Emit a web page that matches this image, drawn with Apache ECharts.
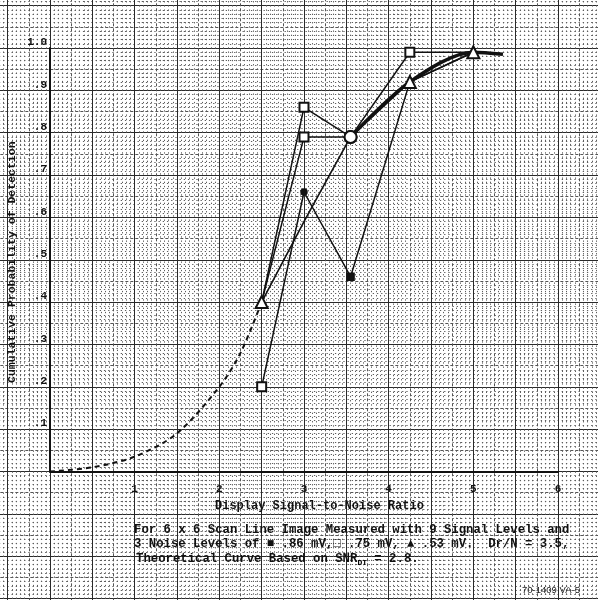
<!DOCTYPE html>
<html>
<head>
<meta charset="utf-8">
<script src="https://cdn.jsdelivr.net/npm/echarts@6/dist/echarts.min.js"></script>
<style>html,body{margin:0;padding:0;background:#fff}#c{width:598px;height:600px}</style>
</head>
<body>
<div id="c"></div>
<script>
// ---- data ----
const xTickLabels = ['1', '2', '3', '4', '5', '6'];
const yTickLabels = ['.1', '.2', '.3', '.4', '.5', '.6', '.7', '.8', '.9', '1.0'];
const snrValues = [2.5, 3.0, 3.55, 4.25, 5.0];
const noise86 = [0.20, 0.66, 0.46, 0.92, 0.99];
const noise75 = [0.40, 0.86, 0.79, 0.99, 0.99];
const noise53 = [0.40, 0.79, 0.79, 0.92, 0.99];
const theoryX = [0, 0.5, 1.0, 1.5, 2.0, 2.25, 2.5, 3.0, 3.55, 4.25, 5.0, 5.35];
const theoryY = [0, 0.01, 0.035, 0.09, 0.2, 0.28, 0.4, 0.59, 0.79, 0.92, 0.99, 0.985];
const xTitle = 'Display Signal-to-Noise Ratio';
const yTitle = 'Cumulative Probability of Detection';
const caption1 = 'For 6 x 6 Scan Line Image Measured with 9 Signal Levels and';
const caption2 = '3 Noise Levels of \u25A0 .86 mV,\u25A1 .75 mV, \u25B2 .53 mV.  Dr/N = 3.5,';
const caption3a = 'Theoretical Curve Based on SNR';
const caption3sub = 'DT';
const caption3b = ' = 2.8.';
const figId = '70-1409 VA-5';

// ---- styles (kept separate) ----
const sym86 = ['emptyRect', 'circle', 'rect', 'none', 'none'];
const sym75 = ['emptyTriangle', 'emptyRect', 'emptyCircle', 'emptyRect', 'none'];
const sym53 = ['none', 'emptyRect', 'emptyCircle', 'emptyTriangle', 'emptyTriangle'];
const symSize = {emptyRect: 9, rect: 7, circle: 6, emptyCircle: 12, emptyTriangle: 12, none: 0};

function pts(ys, syms) {
  return snrValues.map((x, i) => ({value: [x, ys[i]], symbol: syms[i], symbolSize: symSize[syms[i]]}));
}
const theoryDashed = [], theorySolid = [], theoryThick = [];
theoryX.forEach((x, i) => {
  if (x <= 2.5) theoryDashed.push([x, theoryY[i]]);
  if (x >= 2.5 && x <= 3.55) theorySolid.push([x, theoryY[i]]);
  if (x >= 3.55) theoryThick.push([x, theoryY[i]]);
});

const ink = '#111';
const mono = '"Liberation Mono", "DejaVu Sans Mono", monospace';
const chart = echarts.init(document.getElementById('c'), null, {renderer: 'canvas'});

const pxPerX = 508 / 6, pxPerY = 423.5;
const paperLeft = 50 - 1.0 * pxPerX, paperTop = 48 - 0.2 * pxPerY;

chart.setOption({
  backgroundColor: '#fff',
  animation: false,
  grid: [
    {left: paperLeft, top: paperTop, width: 7.5 * pxPerX, height: 1.6 * pxPerY,
     outerBoundsMode: 'none', containLabel: false},
    {left: 50, top: 48, width: 508, height: 423.5, outerBoundsMode: 'none', containLabel: false}
  ],
  xAxis: [
    {gridIndex: 0, type: 'value', min: -1, max: 6.5, interval: 0.25, position: 'bottom',
     axisLine: {show: false}, axisTick: {show: false}, axisLabel: {show: false},
     splitLine: {show: true, lineStyle: {color: '#555', width: 1, type: [3, 2]}},
     minorTick: {show: false, splitNumber: 5},
     minorSplitLine: {show: true, lineStyle: {color: '#5e5e5e', width: 1, type: [1.3, 2.9]}}},
    {gridIndex: 0, type: 'value', min: -1, max: 6.5, interval: 0.5, position: 'top',
     axisLine: {show: false}, axisTick: {show: false}, axisLabel: {show: false},
     splitLine: {show: true, lineStyle: {color: '#2a2a2a', width: 1}}},
    {gridIndex: 1, type: 'value', min: 0, max: 6, interval: 1, position: 'bottom',
     axisLine: {show: true, onZero: false, lineStyle: {color: ink, width: 2}},
     axisTick: {show: false}, splitLine: {show: false},
     axisLabel: {show: true, margin: 12, color: ink, fontFamily: mono, fontWeight: 'bold', fontSize: 11,
       formatter: v => (v >= 1 ? xTickLabels[Math.round(v) - 1] : '')}}
  ],
  yAxis: [
    {gridIndex: 0, type: 'value', min: -0.4, max: 1.2, interval: 0.05, position: 'left',
     axisLine: {show: false}, axisTick: {show: false}, axisLabel: {show: false},
     splitLine: {show: true, lineStyle: {color: '#555', width: 1, type: [3, 2]}},
     minorTick: {show: false, splitNumber: 5},
     minorSplitLine: {show: true, lineStyle: {color: '#5e5e5e', width: 1, type: [1.3, 2.9]}}},
    {gridIndex: 0, type: 'value', min: -0.4, max: 1.2, interval: 0.1, position: 'right',
     axisLine: {show: false}, axisTick: {show: false}, axisLabel: {show: false},
     splitLine: {show: true, lineStyle: {color: '#2a2a2a', width: 1}}},
    {gridIndex: 1, type: 'value', min: 0, max: 1, interval: 0.1, position: 'left',
     axisLine: {show: true, onZero: false, lineStyle: {color: ink, width: 2}},
     axisTick: {show: false}, splitLine: {show: false},
     axisLabel: {show: true, margin: 3, verticalAlign: 'bottom', color: ink, fontFamily: mono, fontWeight: 'bold', fontSize: 11,
       formatter: v => { const k = Math.round(v * 10); return k >= 1 ? yTickLabels[k - 1] : ''; }}}
  ],
  series: [
    {type: 'line', xAxisIndex: 2, yAxisIndex: 2, data: theoryDashed, showSymbol: false, smooth: 0.3,
     lineStyle: {color: ink, width: 2, type: [5, 4]}, z: 3, clip: false},
    {type: 'line', xAxisIndex: 2, yAxisIndex: 2, data: theorySolid, showSymbol: false, smooth: 0.2,
     lineStyle: {color: ink, width: 1.6}, z: 3, clip: false},
    {type: 'line', xAxisIndex: 2, yAxisIndex: 2, data: theoryThick, showSymbol: false, smooth: 0.3,
     lineStyle: {color: ink, width: 3.5}, z: 3, clip: false},
    {type: 'line', xAxisIndex: 2, yAxisIndex: 2, data: pts(noise86, sym86), clip: false,
     lineStyle: {color: ink, width: 1.5}, itemStyle: {color: ink, borderColor: ink, borderWidth: 1.5}, z: 4},
    {type: 'line', xAxisIndex: 2, yAxisIndex: 2, data: pts(noise75, sym75), clip: false,
     lineStyle: {color: ink, width: 1.5}, itemStyle: {color: ink, borderColor: ink, borderWidth: 2.2}, z: 5},
    {type: 'line', xAxisIndex: 2, yAxisIndex: 2, data: pts(noise53, sym53), clip: false,
     lineStyle: {color: ink, width: 1.5}, itemStyle: {color: ink, borderColor: ink, borderWidth: 2.2}, z: 5}
  ],
  graphic: [
    {type: 'text', left: 215, top: 500, z: 10,
     style: {text: xTitle, font: 'bold 12px ' + mono, fill: ink}},
    {type: 'text', x: 12, y: 383, rotation: Math.PI / 2, z: 10,
     style: {text: yTitle, font: 'bold 11.5px ' + mono, fill: ink, textVerticalAlign: 'middle'}},
    {type: 'text', left: 134, top: 524, z: 10,
     style: {text: caption1, font: 'bold 12.3px ' + mono, fill: ink}},
    {type: 'text', left: 134, top: 538, z: 10,
     style: {text: caption2, font: 'bold 12.3px ' + mono, fill: ink}},
    {type: 'text', left: 136, top: 553, z: 10,
     style: {text: '{a|' + caption3a + '}{s|' + caption3sub + '}{a|' + caption3b + '}',
       rich: {a: {font: 'bold 12.3px ' + mono, fill: ink, color: ink},
              s: {font: 'bold 8px ' + mono, color: ink, padding: [8, 0, 0, 0]}}}},
    {type: 'text', left: 522, top: 585, z: 10,
     style: {text: figId, font: '9.5px "Liberation Sans", Arial, sans-serif', fill: '#222'}}
  ]
});
</script>
</body>
</html>
